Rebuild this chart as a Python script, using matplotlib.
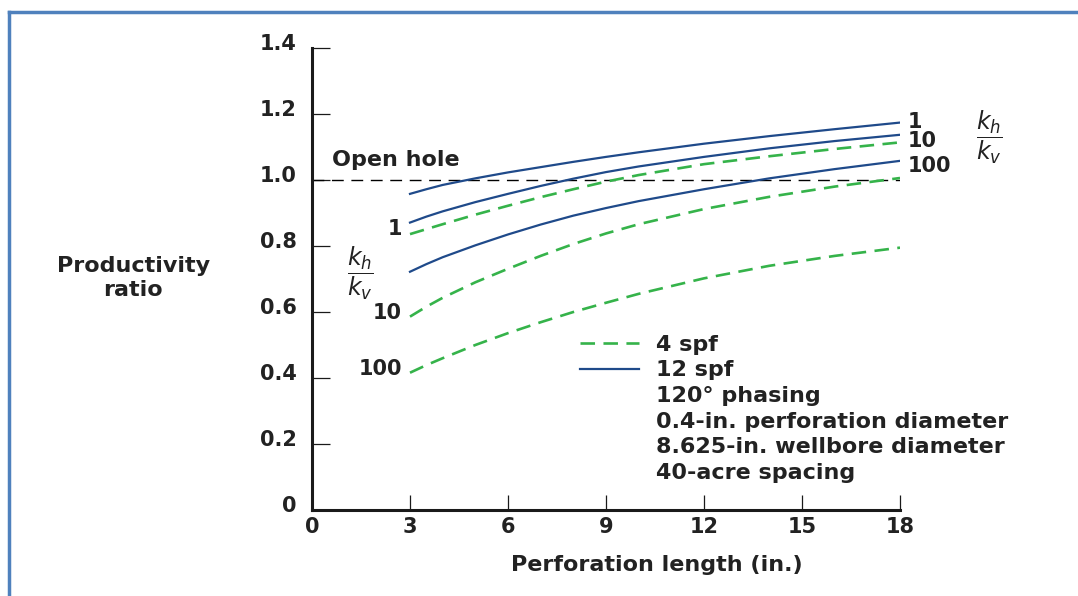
import matplotlib
matplotlib.use("Agg")
import matplotlib.pyplot as plt
from matplotlib.lines import Line2D
from matplotlib.transforms import ScaledTranslation

# ---------------- data ----------------
perf_length = [3, 3.5, 4, 5, 6, 7, 8, 9, 10, 12, 14, 16, 18]

spf12_kh1 = [0.958, 0.972, 0.985, 1.005, 1.023, 1.039, 1.055, 1.070, 1.084, 1.110, 1.133, 1.154, 1.174]
spf12_kh10 = [0.871, 0.889, 0.905, 0.933, 0.958, 0.982, 1.004, 1.024, 1.041, 1.070, 1.096, 1.118, 1.137]
spf12_kh100 = [0.722, 0.745, 0.766, 0.802, 0.835, 0.865, 0.892, 0.915, 0.936, 0.972, 1.005, 1.033, 1.058]
spf4_kh1 = [0.836, 0.851, 0.866, 0.895, 0.922, 0.948, 0.972, 0.995, 1.015, 1.048, 1.072, 1.094, 1.114]
spf4_kh10 = [0.586, 0.616, 0.643, 0.690, 0.731, 0.770, 0.806, 0.838, 0.866, 0.912, 0.949, 0.980, 1.006]
spf4_kh100 = [0.416, 0.439, 0.460, 0.500, 0.536, 0.569, 0.600, 0.628, 0.655, 0.702, 0.740, 0.770, 0.795]

open_hole_x = [0, 18]
open_hole_y = [1.0, 1.0]

kh_kv_labels = ["1", "10", "100"]
x_ticks = [0, 3, 6, 9, 12, 15, 18]
y_ticks = [0, 0.2, 0.4, 0.6, 0.8, 1.0, 1.2, 1.4]
y_tick_labels = ["0", "0.2", "0.4", "0.6", "0.8", "1.0", "1.2", "1.4"]
legend_rows = ["4 spf", "12 spf", "120° phasing", "0.4-in. perforation diameter",
               "8.625-in. wellbore diameter", "40-acre spacing"]

# ---------------- style ----------------
GREEN = "#35b34a"
BLUE = "#1f4a8a"
TXT = "#222222"
FRAME = "#4f81bd"

plt.rcParams["font.family"] = ["DejaVu Sans"]
plt.rcParams["mathtext.fontset"] = "dejavusans"

fig = plt.figure(figsize=(10.78, 5.96), dpi=100)
ax = fig.add_axes([312 / 1078, 1 - 510 / 596, 588 / 1078, 462 / 596])

# frame decoration (top and left blue lines)
fig.add_artist(Line2D([9 / 1078, 9 / 1078], [0, 1 - 12 / 596], transform=fig.transFigure,
                      color=FRAME, lw=2.5))
fig.add_artist(Line2D([9 / 1078, 1], [1 - 12 / 596, 1 - 12 / 596], transform=fig.transFigure,
                      color=FRAME, lw=2.5))

# open hole
ax.plot(open_hole_x, open_hole_y, color="black", lw=1.0, dashes=(8.5, 5.5))

dash = (5.5, 3.2)
ax.plot(perf_length, spf4_kh1, color=GREEN, lw=1.9, dashes=dash)
ax.plot(perf_length, spf4_kh10, color=GREEN, lw=1.9, dashes=dash)
ax.plot(perf_length, spf4_kh100, color=GREEN, lw=1.9, dashes=dash)
ax.plot(perf_length, spf12_kh1, color=BLUE, lw=1.6)
ax.plot(perf_length, spf12_kh10, color=BLUE, lw=1.6)
ax.plot(perf_length, spf12_kh100, color=BLUE, lw=1.6)

ax.set_xlim(0, 18)
ax.set_ylim(0, 1.4)
for s in ["top", "right"]:
    ax.spines[s].set_visible(False)
for s in ["left", "bottom"]:
    ax.spines[s].set_linewidth(2.2)
    ax.spines[s].set_color("#1a1a1a")
    ax.spines[s].set_capstyle("projecting")

ax.set_xticks(x_ticks)
ax.set_yticks(y_ticks)
ax.set_yticklabels(y_tick_labels)
ax.tick_params(axis="y", direction="in", length=13, width=0.9, pad=11,
               labelsize=15, colors="#1a1a1a")
ax.tick_params(axis="x", direction="in", length=11, width=0.9, pad=5,
               labelsize=15, colors="#1a1a1a")
for lab in ax.get_yticklabels() + ax.get_xticklabels():
    lab.set_fontweight("bold")
    lab.set_color(TXT)
for lab in ax.get_yticklabels():
    lab.set_transform(lab.get_transform() + ScaledTranslation(0, 4 / 72, fig.dpi_scale_trans))

ax.set_ylabel("Productivity\nratio", rotation=0, fontsize=16, fontweight="bold",
              color=TXT, ha="center", va="center", linespacing=1.3)
ax.yaxis.set_label_coords(-0.304, 0.502)
ax.set_xlabel("Perforation length (in.)", fontsize=16, fontweight="bold", color=TXT,
              va="center")
ax.xaxis.set_label_coords(0.587, -0.119)

# annotations
ax.text(0.61, 1.06, "Open hole", fontsize=16, fontweight="bold", color=TXT,
        ha="left", va="center")

frac = r"$\dfrac{k_h}{k_v}$"
left_y = [0.852, 0.597, 0.427]
for lab, yy in zip(kh_kv_labels, left_y):
    ax.text(2.75, yy, lab, fontsize=15, fontweight="bold", color=TXT,
            ha="right", va="center")
ax.text(1.47, 0.718, frac, fontsize=17, color=TXT, ha="center", va="center")

right_y = [1.176, 1.118, 1.042]
for lab, yy in zip(kh_kv_labels, right_y):
    ax.text(18.24, yy, lab, fontsize=15, fontweight="bold", color=TXT,
            ha="left", va="center", clip_on=False)
ax.text(20.75, 1.13, frac, fontsize=17, color=TXT, ha="center", va="center", clip_on=False)

# legend
handles = [Line2D([], [], color=GREEN, lw=1.9, dashes=dash),
           Line2D([], [], color=BLUE, lw=1.6)]
handles += [Line2D([], [], color="none") for _ in legend_rows[2:]]
leg = ax.legend(handles, legend_rows, loc="upper left", bbox_to_anchor=(0.456, 0.379),
                frameon=False, borderaxespad=0, borderpad=0, labelspacing=0.25,
                handlelength=2.65, handletextpad=0.75,
                prop={"size": 16, "weight": "bold"})
for t in leg.get_texts():
    t.set_color(TXT)

fig.savefig("out.png", dpi=100)
